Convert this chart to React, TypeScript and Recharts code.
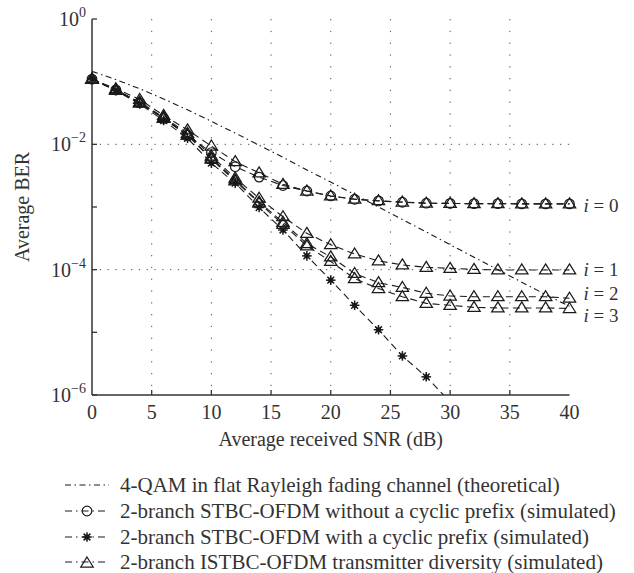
import { LineChart, Line, XAxis, YAxis, CartesianGrid, LabelList } from 'recharts'

// Average received SNR (dB)
const snr = [0, 2, 4, 6, 8, 10, 12, 14, 16, 18, 20, 22, 24, 26, 28, 30, 32, 34, 36, 38, 40]

// 4-QAM in flat Rayleigh fading (theoretical)
const theory = [0.146, 0.108, 0.077, 0.053, 0.0355, 0.0233, 0.0151, 0.0097, 0.0062, 0.0039, 0.0025,
  0.00158, 0.001, 0.00063, 0.0004, 0.00025, 0.000158, 0.0001, 0.000063, 0.00004, 0.000026]

// STBC-OFDM without a cyclic prefix
const noCp = [0.11, 0.074, 0.046, 0.026, 0.014, 0.0074, 0.0044, 0.003, 0.0022, 0.0018, 0.0015,
  0.00133, 0.00125, 0.00119, 0.00115, 0.00114, 0.00113, 0.00113, 0.00112, 0.00112, 0.00112]

// STBC-OFDM with a cyclic prefix
const withCp = [0.11, 0.072, 0.044, 0.024, 0.0125, 0.005, 0.0024, 0.00098, 0.00043, 0.000166, 0.000068,
  0.000027, 0.000011, 0.0000042, 0.00000195, 0.00000078]

// ISTBC-OFDM, i = 0..3
const istbc0 = [0.11, 0.077, 0.052, 0.029, 0.017, 0.0094, 0.0053, 0.0035, 0.0023, 0.0018, 0.0015,
  0.00133, 0.00126, 0.0012, 0.00115, 0.00114, 0.00113, 0.00113, 0.00112, 0.00112, 0.00112]
const istbc1 = [0.11, 0.074, 0.047, 0.027, 0.015, 0.0065, 0.0029, 0.00138, 0.0007, 0.00038, 0.00025,
  0.000178, 0.000138, 0.000119, 0.000109, 0.000105, 0.000101, 0.000099, 0.000099, 0.000099, 0.000099]
const istbc2 = [0.11, 0.073, 0.046, 0.026, 0.014, 0.006, 0.0027, 0.0012, 0.00057, 0.00026, 0.00016,
  0.000087, 0.000062, 0.000052, 0.000042, 0.000038, 0.000037, 0.000037, 0.000037, 0.000037, 0.000035]
const istbc3 = [0.11, 0.073, 0.046, 0.026, 0.014, 0.0058, 0.0026, 0.00115, 0.00053, 0.00024, 0.000135,
  0.000072, 0.00005, 0.000037, 0.000029, 0.000027, 0.000025, 0.0000245, 0.0000245, 0.0000245, 0.000024]

const xTicks = [0, 5, 10, 15, 20, 25, 30, 35, 40]
const yTicks = [1e-6, 1e-5, 1e-4, 1e-3, 1e-2, 1e-1, 1]
const iLabels = ['0', '1', '2', '3']

const legendItems = [
  { label: '4-QAM in flat Rayleigh fading channel (theoretical)', marker: 'none' },
  { label: '2-branch STBC-OFDM without a cyclic prefix (simulated)', marker: 'circle' },
  { label: '2-branch STBC-OFDM with a cyclic prefix (simulated)', marker: 'star' },
  { label: '2-branch ISTBC-OFDM transmitter diversity (simulated)', marker: 'triangle' },
]

const rows = snr.map((s, i) => ({
  snr: s,
  theory: theory[i],
  noCp: noCp[i],
  withCp: i < withCp.length ? withCp[i] : null,
  i0: istbc0[i],
  i1: istbc1[i],
  i2: istbc2[i],
  i3: istbc3[i],
}))

const FONT = "'Liberation Serif', 'Times New Roman', serif"
const INK = '#1a1a1a'
const TXT = '#333'
const DASH = '7 4.5'

function circleMark(cx: number, cy: number, key?: any) {
  return <circle key={key} cx={cx} cy={cy} r={4.8} fill="none" stroke={INK} strokeWidth={1.2} />
}
function triMark(cx: number, cy: number, key?: any) {
  return (
    <path key={key} d={`M${cx},${cy - 6} L${cx + 6.2},${cy + 4} L${cx - 6.2},${cy + 4} Z`}
      fill="none" stroke={INK} strokeWidth={1.25} />
  )
}
function starMark(cx: number, cy: number, key?: any) {
  const r = 4.8
  const d = r * 0.707
  return (
    <g key={key} stroke={INK} strokeWidth={1.5}>
      <line x1={cx - r} x2={cx + r} y1={cy} y2={cy} />
      <line x1={cx} x2={cx} y1={cy - r} y2={cy + r} />
      <line x1={cx - d} x2={cx + d} y1={cy - d} y2={cy + d} />
      <line x1={cx - d} x2={cx + d} y1={cy + d} y2={cy - d} />
      <circle cx={cx} cy={cy} r={1.8} fill={INK} />
    </g>
  )
}

const dotOf = (fn: any) => (p: any) => {
  if (p.cx == null || p.cy == null || p.value == null) return <g key={`e-${p.index}`} />
  return fn(p.cx, p.cy, `d-${p.index}`)
}

const LeftTick = (p: any) => {
  const { x, y, payload } = p
  const e = Math.round(Math.log10(payload.value))
  return (
    <g>
      <line x1={x} x2={x + 5} y1={y} y2={y} stroke="#333" strokeWidth={1.3} />
      {e % 2 === 0 && (
        <text x={x - 6} y={y + 7} textAnchor="end" fontFamily={FONT} fontSize={20} fill={TXT}>
          10
          <tspan dy={-9} fontSize={14}>{e === 0 ? '0' : '\u2212' + -e}</tspan>
        </text>
      )}
    </g>
  )
}
const RightTick = (p: any) => (
  <line x1={p.x} x2={p.x - 5} y1={p.y} y2={p.y} stroke="#333" strokeWidth={1.3} />
)
const BottomTick = (p: any) => {
  const { x, y, payload } = p
  const inner = payload.value > 0 && payload.value < 40
  return (
    <g>
      {inner && <line x1={x} x2={x} y1={y} y2={y - 5} stroke="#333" strokeWidth={1.3} />}
      <text x={x} y={y + 24} textAnchor="middle" fontFamily={FONT} fontSize={20} fill={TXT}>
        {payload.value}
      </text>
    </g>
  )
}
const TopTick = (p: any) => {
  const inner = p.payload.value > 0 && p.payload.value < 40
  return inner ? <line x1={p.x} x2={p.x} y1={p.y} y2={p.y + 5} stroke="#333" strokeWidth={1.3} /> : <g />
}

const endLabel = (k: number, dy: number) => (p: any) => {
  if (p.index !== snr.length - 1) return null
  return (
    <text x={p.x + 14} y={p.y + dy + 6} fontFamily={FONT} fontSize={19} fill={TXT}>
      <tspan fontStyle="italic">i</tspan> = {iLabels[k]}
    </text>
  )
}

function LegendSymbol({ marker }: { marker: string }) {
  const dash = marker === 'none' ? '6 3.5 1.5 3.5' : '7 4 1.5 4'
  return (
    <svg width={46} height={20} style={{ position: 'absolute', left: 64, top: 3 }}>
      <line x1={1} x2={45} y1={10} y2={10} stroke={INK} strokeWidth={1.2} strokeDasharray={dash} />
      {marker === 'circle' && circleMark(23, 10)}
      {marker === 'star' && starMark(23, 10)}
      {marker === 'triangle' && triMark(23, 11)}
    </svg>
  )
}

export default function App() {
  return (
    <div style={{ position: 'absolute', left: 0, top: 0, width: 634, height: 573, background: '#fff' }}>
      <LineChart width={634} height={573} data={rows} margin={{ top: 19, right: 64.5, bottom: 123, left: 0 }}>
        <CartesianGrid horizontal={false} verticalValues={[5, 10, 15, 20, 25, 30, 35]}
          stroke="#555" strokeDasharray="1.3 10.5" />
        <CartesianGrid vertical={false} horizontalValues={[1e-2, 1e-4]}
          stroke="#555" strokeDasharray="1.3 6.5" />
        <XAxis dataKey="snr" type="number" domain={[0, 40]} ticks={xTicks} interval={0}
          height={55} tickSize={0} tickMargin={0} tickLine={false} tick={BottomTick}
          axisLine={{ stroke: '#333', strokeWidth: 1.5 }}
          label={() => (
            <text x={330.7} y={446} textAnchor="middle" fontFamily={FONT} fontSize={20} fill={TXT}>
              Average received SNR (dB)
            </text>
          )} />
        <XAxis xAxisId="top" orientation="top" dataKey="snr" type="number" domain={[0, 40]} ticks={xTicks}
          interval={0} height={0} tickSize={0} tickMargin={0} tickLine={false} tick={TopTick}
          axisLine={{ stroke: '#333', strokeWidth: 1.5 }} />
        <YAxis type="number" scale="log" domain={[1e-6, 1]} ticks={yTicks} interval={0} width={92}
          tickSize={0} tickMargin={0} tickLine={false} tick={LeftTick}
          axisLine={{ stroke: '#333', strokeWidth: 1.5 }}
          label={() => (
            <text x={22} y={207} transform="rotate(-90 22 207)" textAnchor="middle" dominantBaseline="central"
              fontFamily={FONT} fontSize={20} fill={TXT}>
              Average BER
            </text>
          )} />
        <YAxis yAxisId="right" orientation="right" type="number" scale="log" domain={[1e-6, 1]} ticks={yTicks}
          interval={0} width={0} tickSize={0} tickMargin={0} tickLine={false} tick={RightTick}
          axisLine={{ stroke: '#333', strokeWidth: 1.5 }} />
        <YAxis yAxisId="star" hide type="number" scale="log" domain={[1e-6, 1]} allowDataOverflow />

        <Line dataKey="theory" stroke={INK} strokeWidth={1.1} strokeDasharray="6 3.5 1.5 3.5"
          dot={false} activeDot={false} isAnimationActive={false} />
        <Line dataKey="noCp" stroke={INK} strokeWidth={1.1} strokeDasharray={DASH}
          dot={dotOf(circleMark)} activeDot={false} isAnimationActive={false} />
        <Line dataKey="withCp" yAxisId="star" stroke={INK} strokeWidth={1.1} strokeDasharray={DASH}
          dot={dotOf(starMark)} activeDot={false} isAnimationActive={false} />
        <Line dataKey="i0" stroke={INK} strokeWidth={1.1} strokeDasharray={DASH}
          dot={dotOf(triMark)} activeDot={false} isAnimationActive={false}>
          <LabelList dataKey="i0" content={endLabel(0, 2)} />
        </Line>
        <Line dataKey="i1" stroke={INK} strokeWidth={1.1} strokeDasharray={DASH}
          dot={dotOf(triMark)} activeDot={false} isAnimationActive={false}>
          <LabelList dataKey="i1" content={endLabel(1, 0)} />
        </Line>
        <Line dataKey="i2" stroke={INK} strokeWidth={1.1} strokeDasharray={DASH}
          dot={dotOf(triMark)} activeDot={false} isAnimationActive={false}>
          <LabelList dataKey="i2" content={endLabel(2, -4)} />
        </Line>
        <Line dataKey="i3" stroke={INK} strokeWidth={1.1} strokeDasharray={DASH}
          dot={dotOf(triMark)} activeDot={false} isAnimationActive={false}>
          <LabelList dataKey="i3" content={endLabel(3, 7)} />
        </Line>
      </LineChart>

      {legendItems.map((item, k) => (
        <div key={item.label} style={{ position: 'absolute', left: 0, top: 472 + k * 25.8, width: 634, height: 26 }}>
          <LegendSymbol marker={item.marker} />
          <span style={{ position: 'absolute', left: 120, top: 0, fontFamily: FONT, fontSize: 21,
            lineHeight: '26px', color: TXT, whiteSpace: 'nowrap' }}>
            {item.label}
          </span>
        </div>
      ))}
    </div>
  )
}
